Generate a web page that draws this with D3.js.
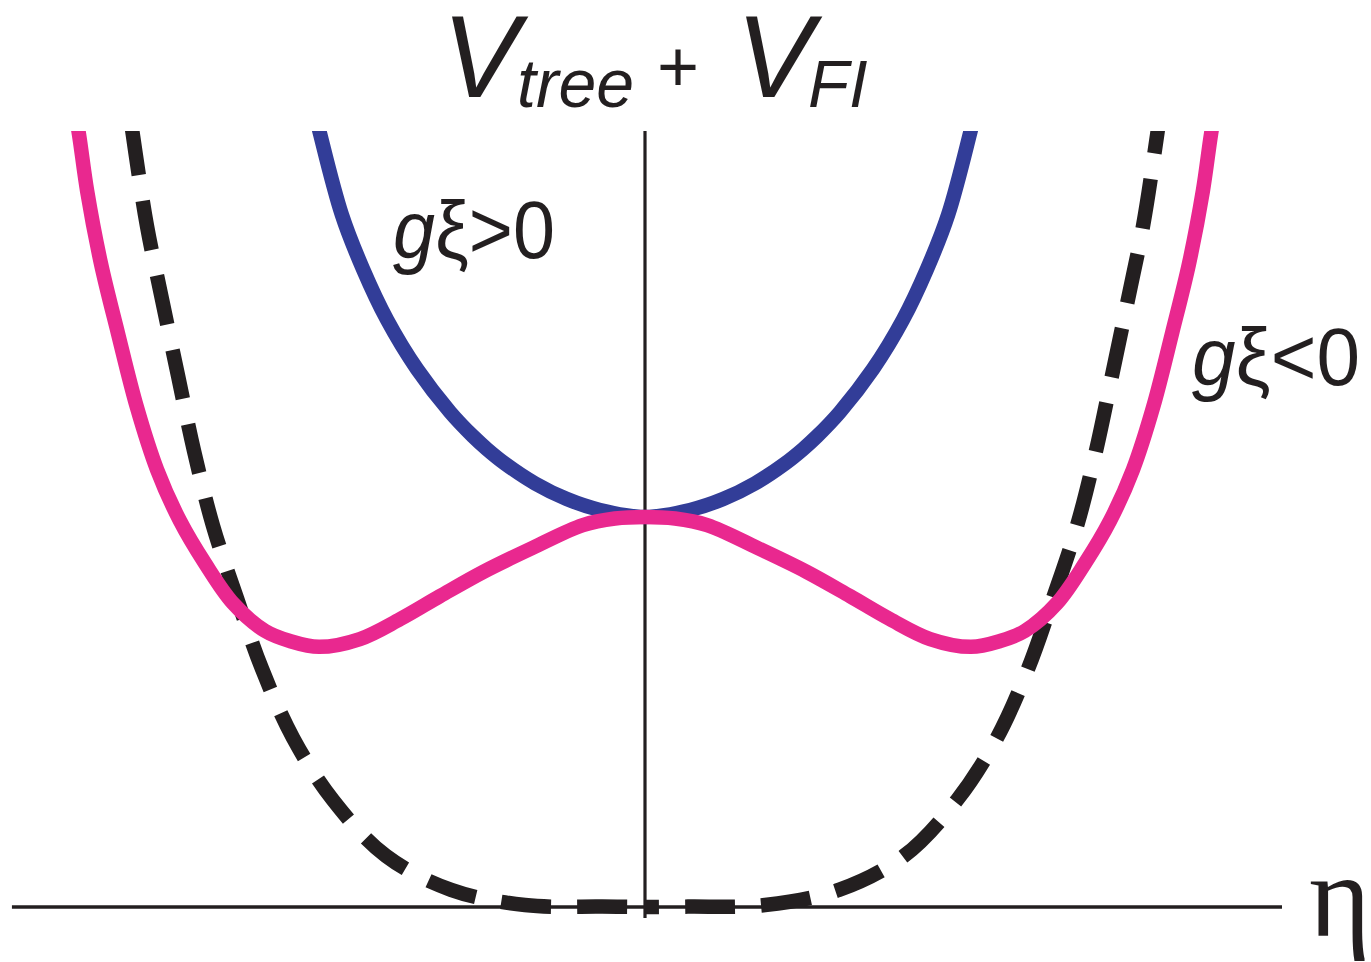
<!DOCTYPE html>
<html>
<head>
<meta charset="utf-8">
<script src="https://cdn.jsdelivr.net/npm/d3@7"></script>
<style>
  html, body { margin: 0; padding: 0; background: #ffffff; }
  svg { display: block; }
</style>
</head>
<body>
<svg id="chart" width="1371" height="962"></svg>
<script>
// Effective potential V_tree + V_FI as a function of the field eta
// (eta in units of the symmetry-breaking minimum, V in units of V(0)).

// g*xi > 0 : single minimum at the origin
const blueEta = [-1.018, -0.994, -0.927, -0.862, -0.789, -0.697, -0.596, -0.526, -0.483, -0.428, -0.336, -0.239, -0.138, 0,
                 0.138, 0.239, 0.336, 0.428, 0.483, 0.526, 0.596, 0.697, 0.789, 0.862, 0.927, 0.994, 1.018];
const blueV   = [2.069, 1.984, 1.775, 1.635, 1.506, 1.379, 1.269, 1.207, 1.174, 1.137, 1.086, 1.046, 1.018, 1.000,
                 1.018, 1.046, 1.086, 1.137, 1.174, 1.207, 1.269, 1.379, 1.506, 1.635, 1.775, 1.984, 2.069];

// g*xi < 0 : double well
const pinkEta = [-1.749, -1.731, -1.706, -1.664, -1.612, -1.554, -1.492, -1.422, -1.346, -1.260, -1.162, -1.086,
                 -0.997, -0.872, -0.749, -0.627, -0.495, -0.343, -0.190, -0.092, 0,
                 0.092, 0.190, 0.343, 0.495, 0.627, 0.749, 0.872, 0.997,
                 1.086, 1.162, 1.260, 1.346, 1.422, 1.492, 1.554, 1.612, 1.664, 1.706, 1.731, 1.749];
const pinkV   = [2.069, 1.982, 1.836, 1.651, 1.472, 1.282, 1.121, 0.990, 0.882, 0.779, 0.708, 0.682,
                 0.667, 0.687, 0.738, 0.797, 0.859, 0.921, 0.979, 0.996, 1.000,
                 0.996, 0.979, 0.921, 0.859, 0.797, 0.738, 0.687, 0.667,
                 0.682, 0.708, 0.779, 0.882, 0.990, 1.121, 1.282, 1.472, 1.651, 1.836, 1.982, 2.069];

// tree-level potential alone (dashed)
const treeEta = [-1.581, -1.558, -1.523, -1.476, -1.428, -1.379, -1.321, -1.248, -1.171, -1.076, -0.954, -0.792,
                 -0.593, -0.367, -0.131, 0,
                 0.131, 0.367, 0.593, 0.792, 0.954, 1.076, 1.171, 1.248, 1.321, 1.379, 1.428, 1.476,
                 1.523, 1.558, 1.581];
const treeV   = [2.069, 1.933, 1.746, 1.554, 1.362, 1.169, 0.977, 0.792, 0.610, 0.433, 0.274, 0.131,
                 0.044, 0.005, 0.001, 0.000,
                 0.001, 0.005, 0.044, 0.131, 0.274, 0.433, 0.610, 0.792, 0.977, 1.169, 1.362, 1.554,
                 1.746, 1.933, 2.069];

// extent of the drawn axes, in data units
const etaAxis = [-1.936, 1.948];
const vAxis   = [-0.028, 1.99];

const curveLabels = [["g", "\u03BE>0"], ["g", "\u03BE<0"]];
const axisLabel = "\u03B7";

const svg = d3.select("#chart");

const x = d3.scaleLinear().domain([-1, 1]).range([645 - 327, 645 + 327]);
const y = d3.scaleLinear().domain([0, 1]).range([907, 517]);

const ink = "#231F20";
const blue = "#323D98";
const pink = "#E9288F";
const curveWidth = 14.5;

// clip the curves at the top of the frame
svg.append("defs").append("clipPath").attr("id", "plotClip")
  .append("rect")
  .attr("x", 0).attr("y", y(vAxis[1]))
  .attr("width", 1371).attr("height", 962 - y(vAxis[1]));

// axes: horizontal eta axis and vertical axis through the origin
svg.append("line")
  .attr("x1", x(etaAxis[0])).attr("x2", x(etaAxis[1]))
  .attr("y1", y(0)).attr("y2", y(0))
  .attr("stroke", ink).attr("stroke-width", 3.6);
svg.append("line")
  .attr("x1", x(0)).attr("x2", x(0))
  .attr("y1", y(vAxis[0])).attr("y2", y(vAxis[1]))
  .attr("stroke", ink).attr("stroke-width", 3.2);

const line = d3.line()
  .x(d => x(d[0]))
  .y(d => y(d[1]))
  .curve(d3.curveCatmullRom.alpha(0.5));

const zipPts = (a, b) => a.map((v, i) => [v, b[i]]);

const plot = svg.append("g").attr("clip-path", "url(#plotClip)");

// dashed tree-level curve, drawn outward from the origin on each side
const treePts = zipPts(treeEta, treeV);
const treeLeft = treePts.filter(d => d[0] <= 0).reverse();
const treeRight = treePts.filter(d => d[0] >= 0);
plot.append("path").datum(treeLeft)
  .attr("d", line).attr("fill", "none")
  .attr("stroke", ink).attr("stroke-width", curveWidth)
  .attr("stroke-dasharray", "50,26").attr("stroke-dashoffset", 58);
plot.append("path").datum(treeRight)
  .attr("d", line).attr("fill", "none")
  .attr("stroke", ink).attr("stroke-width", curveWidth)
  .attr("stroke-dasharray", "50,26").attr("stroke-dashoffset", 36);

plot.append("path").datum(zipPts(blueEta, blueV))
  .attr("d", line).attr("fill", "none")
  .attr("stroke", blue).attr("stroke-width", curveWidth);

plot.append("path").datum(zipPts(pinkEta, pinkV))
  .attr("d", line).attr("fill", "none")
  .attr("stroke", pink).attr("stroke-width", curveWidth);

// title: V_tree + V_FI
const sans = "'Liberation Sans', Arial, Helvetica, sans-serif";
const title = svg.append("text").attr("fill", ink).attr("font-family", sans);
title.append("tspan").attr("x", 442).attr("y", 97)
  .attr("font-size", 116).attr("font-style", "italic").text("V");
title.append("tspan").attr("x", 517).attr("y", 107)
  .attr("font-size", 68).attr("font-style", "italic").text("tree");
title.append("tspan").attr("x", 657).attr("y", 91)
  .attr("font-size", 72).text("+");
title.append("tspan").attr("x", 736).attr("y", 97)
  .attr("font-size", 116).attr("font-style", "italic").text("V");
title.append("tspan").attr("x", 808).attr("y", 107)
  .attr("font-size", 67).attr("font-style", "italic").text("FI");

// curve labels (italic g, upright xi and relation)
const labelPos = [[393, 258, 162], [1192, 385, 168]];
curveLabels.forEach((parts, i) => {
  const [lx, ly, len] = labelPos[i];
  const t = svg.append("text").attr("x", lx).attr("y", ly)
    .attr("font-family", sans).attr("font-size", 81).attr("fill", ink)
    .attr("textLength", len).attr("lengthAdjust", "spacingAndGlyphs");
  t.append("tspan").attr("font-style", "italic").text(parts[0]);
  t.append("tspan").text(parts[1]);
});

// axis label
svg.append("text").attr("x", 1309).attr("y", 936)
  .attr("font-family", "'Liberation Serif', 'DejaVu Serif', serif")
  .attr("font-size", 118).attr("fill", ink)
  .text(axisLabel);
</script>
</body>
</html>
